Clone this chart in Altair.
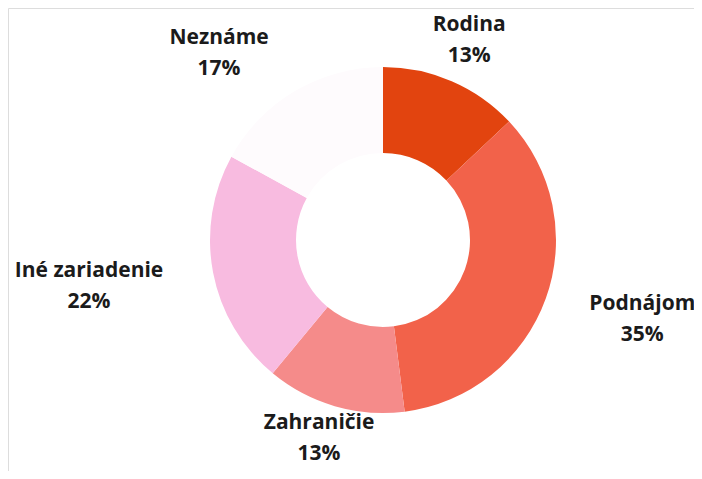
import math
import altair as alt
import pandas as pd

categories = ["Rodina", "Podnájom", "Zahraničie", "Iné zariadenie", "Neznáme"]
values = [13, 35, 13, 22, 17]
colors = ["#e2440f", "#f2624a", "#f58b8a", "#f8bbe0", "#fefbfd"]

# geometry / style
W, H = 686, 463
CX, CY = 375, 232
R_OUT, R_IN = 173, 87
R_LABEL = 222
FONT_SIZE = 21
LINE_H = 31

# approximate Open Sans Bold advance widths (em)
CHAR_W = {"a": .60, "á": .60, "d": .64, "e": .60, "é": .60, "i": .29, "j": .29,
          "m": .96, "n": .64, "o": .62, "r": .44, "z": .50, "h": .64, "č": .51,
          "c": .51, "R": .64, "P": .62, "N": .76, "Z": .57, "I": .34, " ": .26}


def text_width(s):
    return sum(CHAR_W.get(ch, .6) for ch in s) * FONT_SIZE


total = sum(values)
mids = []
acc = 0
for v in values:
    mids.append(acc + v / 2)
    acc += v

df = pd.DataFrame({
    "cat": categories,
    "val": values,
    "idx": list(range(len(values))),
    "mid": mids,
    "label": [f"{c}\n{v}%" for c, v in zip(categories, values)],
})

theta_scale = alt.Scale(domain=[0, total], range=[0, 2 * math.pi])
color_scale = alt.Scale(domain=categories, range=colors)

arcs = alt.Chart(df).mark_arc(innerRadius=R_IN, outerRadius=R_OUT, strokeWidth=0).encode(
    theta=alt.Theta("val:Q", stack=True, scale=theta_scale),
    color=alt.Color("cat:N", scale=color_scale, legend=None),
    order=alt.Order("idx:Q"),
    x=alt.value(CX),
    y=alt.value(CY),
)

layers = [arcs]
for c, m in zip(categories, mids):
    ang = m / total * 2 * math.pi
    s = math.sin(ang)
    half = text_width(c) / 2
    dx = half if s > 0.5 else (-half if s < -0.5 else 0)
    anchor_y = CY - R_LABEL * math.cos(ang)
    # keep the two-line block inside the chart
    dy = min(-11, (H - 8) - 40 - anchor_y)
    t = alt.Chart(df).transform_filter(alt.datum.cat == c).mark_text(
        align="center", baseline="middle", font="Open Sans", fontWeight="bold",
        fontSize=FONT_SIZE, lineHeight=LINE_H, lineBreak="\n", color="#1b1b1b",
        radius=R_LABEL, dx=dx - 2, dy=dy,
    ).encode(
        theta=alt.Theta("mid:Q", stack=None, scale=theta_scale),
        text="label:N",
        x=alt.value(CX),
        y=alt.value(CY),
    )
    layers.append(t)

chart = alt.layer(*layers).properties(
    width=W, height=H, padding=0,
    autosize=alt.AutoSizeParams(type="none"),
).configure_view(strokeWidth=0, strokeOpacity=0).configure(background="white")

chart.save("out.html", embed_options={"renderer": "svg", "actions": False})
